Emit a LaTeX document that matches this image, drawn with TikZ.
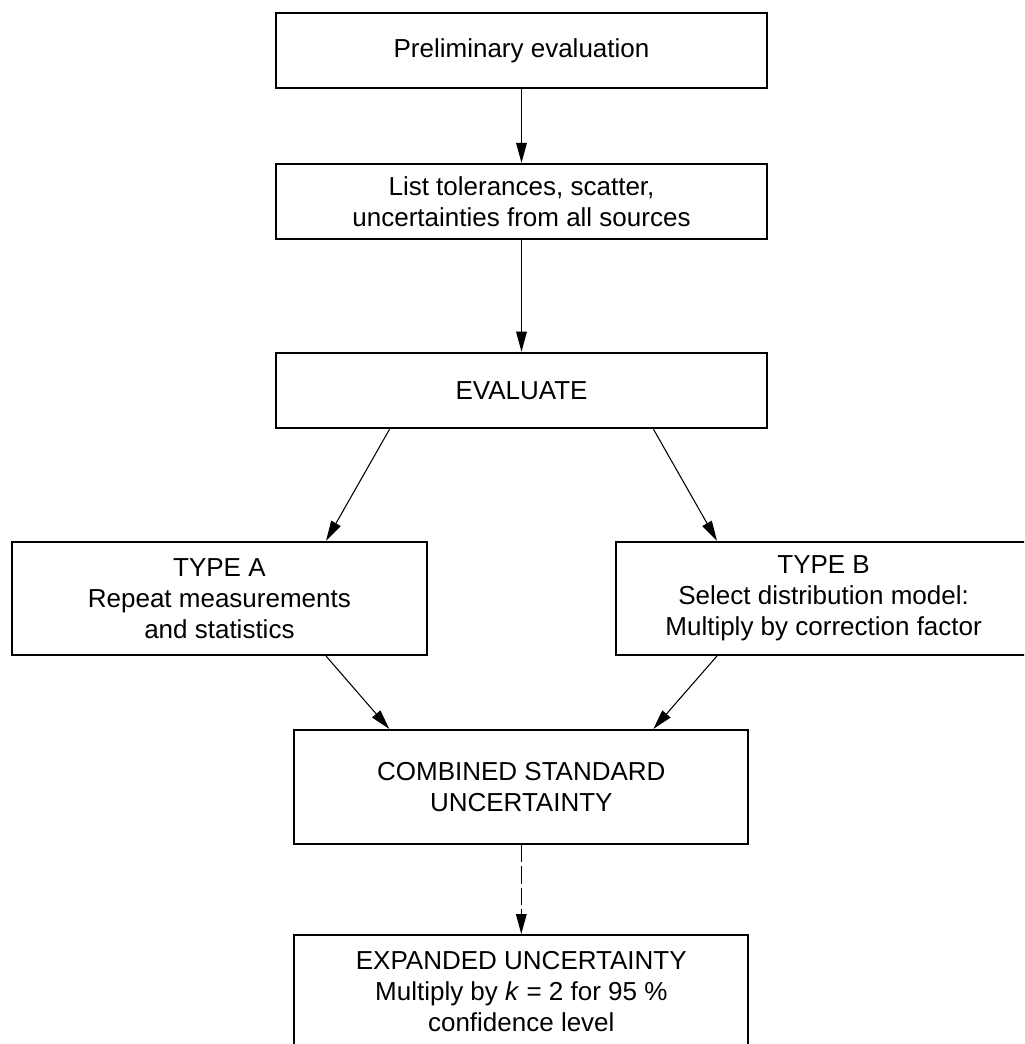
\documentclass[tikz,border=0pt]{standalone}
\usepackage{fontspec}
\setmainfont{Liberation Sans}
\usetikzlibrary{arrows.meta}
\begin{document}
\begin{tikzpicture}[x=0.75pt,y=-0.75pt,
  box/.style={draw, line width=1.5pt, rectangle, inner sep=0pt, align=center,
    font=\fontsize{19.5}{23.25}\selectfont},
  wide/.style={minimum width=368.25pt, minimum height=56.7pt},
  side/.style={minimum width=311.5pt, minimum height=85pt},
  mid/.style={minimum width=340.5pt, minimum height=85.5pt},
  arr/.style={line width=0.8pt, -{Triangle[length=15pt,width=8pt]}},
]
\clip (0,0) rectangle (1024,1044);
\fill[white] (0,0) rectangle (1024,1044);
\node[box, wide] (b1) at (521.5,50.5) {Preliminary evaluation};
\node[box, wide] (b2) at (521.5,201.7) {List tolerances, scatter,\\uncertainties from all sources};
\node[box, wide] (b3) at (521.5,390.5) {EVALUATE};
\node[box, side] (ta) at (219.4,598.4) {TYPE A\\Repeat measurements\\and statistics};
\node[box, side] (tb) at (823.6,598.4) {TYPE B\\Select distribution model:\\Multiply by correction factor};
\node[box, mid] (comb) at (521.3,787) {COMBINED STANDARD\\UNCERTAINTY};
\node[box, mid] (exp) at (521.3,992) {EXPANDED UNCERTAINTY\\Multiply by \textit{k} = 2 for 95 \%\\confidence level};
\draw[arr] (b1) -- (b2);
\draw[arr] (b2) -- (b3);
\draw[arr] ([xshift=-99pt]b3.south) -- ([xshift=80pt]ta.north);
\draw[arr] ([xshift=99pt]b3.south) -- ([xshift=-80pt]tb.north);
\draw[arr] ([xshift=80pt]ta.south) -- ([xshift=-99pt]comb.north);
\draw[arr] ([xshift=-80pt]tb.south) -- ([xshift=99pt]comb.north);
\draw[arr, dash pattern=on 13pt off 3pt] (comb) -- (exp);
\end{tikzpicture}
\end{document}
